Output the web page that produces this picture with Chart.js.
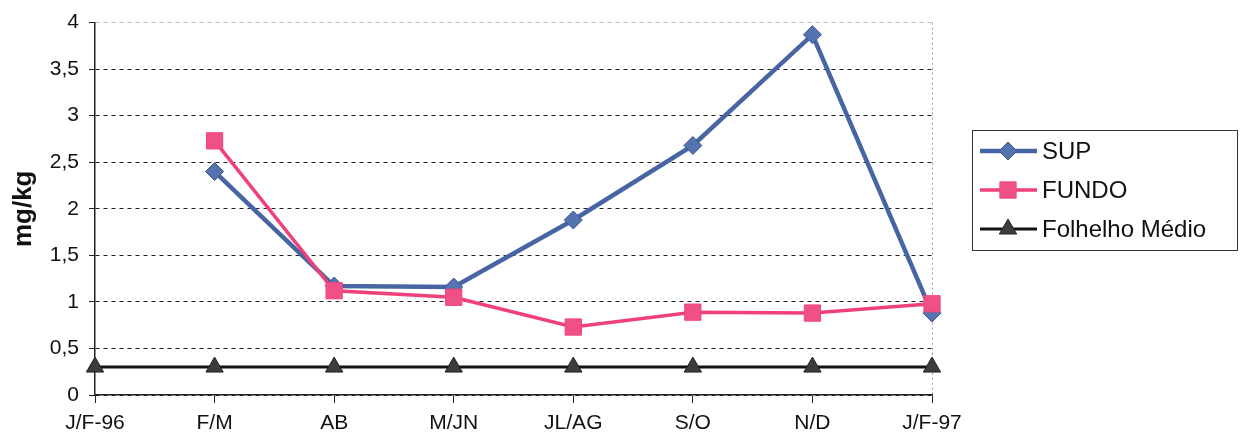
<!DOCTYPE html>
<html>
<head>
<meta charset="utf-8">
<script src="https://cdn.jsdelivr.net/npm/chart.js@4.4.0/dist/chart.umd.min.js"></script>
<style>
  html, body { margin: 0; padding: 0; background: #fff; }
  #wrap { width: 1244px; height: 438px; position: relative; }
</style>
</head>
<body>
<div id="wrap"><canvas id="grafico"></canvas></div>
<script>
// meses de coleta
var meses = ['J/F-96', 'F/M', 'AB', 'M/JN', 'JL/AG', 'S/O', 'N/D', 'J/F-97'];
// concentração (mg/kg)
var sup = [null, 2.40, 1.17, 1.16, 1.88, 2.68, 3.87, 0.88];
var fundo = [null, 2.73, 1.12, 1.05, 0.73, 0.89, 0.88, 0.98];
var folhelho = [0.3, 0.3, 0.3, 0.3, 0.3, 0.3, 0.3, 0.3];
var yTicks = [0, 0.5, 1, 1.5, 2, 2.5, 3, 3.5, 4];

var fonte = 'Liberation Sans, Arial, sans-serif';

// legenda com moldura, desenhada à direita do gráfico
var legendaBox = {
  id: 'legendaBox',
  afterDraw: function(chart) {
    var ctx = chart.ctx;
    var x0 = 972, y0 = 130, w = 265, h = 120;
    ctx.save();
    ctx.strokeStyle = '#333';
    ctx.lineWidth = 1;
    ctx.strokeRect(x0 + 0.5, y0 + 0.5, w, h);
    [0, 1, 2].forEach(function(i, k) {
      var ds = chart.data.datasets[i];
      var y = y0 + 21 + k * 39;
      ctx.strokeStyle = ds.borderColor;
      ctx.lineWidth = ds.borderWidth;
      ctx.beginPath();
      ctx.moveTo(980, y);
      ctx.lineTo(1037, y);
      ctx.stroke();
      ctx.fillStyle = ds.pointBackgroundColor;
      ctx.strokeStyle = ds.pointBorderColor;
      ctx.lineWidth = 1;
      Chart.helpers.drawPoint(ctx, {
        pointStyle: ds.pointStyle,
        radius: ds.pointRadius,
        rotation: 0,
        borderWidth: 1
      }, 1008, y);
      ctx.fillStyle = '#111';
      ctx.font = '24px ' + fonte;
      ctx.textBaseline = 'middle';
      ctx.textAlign = 'left';
      ctx.fillText(ds.label, 1042, y + 1);
    });
    ctx.restore();
  }
};

new Chart(document.getElementById('grafico'), {
  type: 'line',
  data: {
    labels: meses,
    datasets: [
      {
        label: 'SUP',
        data: sup,
        borderColor: '#4865a3',
        borderWidth: 4.5,
        pointStyle: 'rectRot',
        pointRadius: 9,
        pointHoverRadius: 9,
        pointBackgroundColor: '#5573b0',
        pointBorderColor: '#3b568f',
        pointBorderWidth: 1,
        order: 2,
        clip: false
      },
      {
        label: 'FUNDO',
        data: fundo,
        borderColor: '#f0407b',
        borderWidth: 3.5,
        pointStyle: 'rect',
        pointRadius: 11.5,
        pointHoverRadius: 11.5,
        pointBackgroundColor: '#f05086',
        pointBorderColor: '#ee4680',
        pointBorderWidth: 1,
        order: 1,
        clip: false
      },
      {
        label: 'Folhelho Médio',
        data: folhelho,
        borderColor: '#111',
        borderWidth: 3,
        pointStyle: 'triangle',
        pointRadius: 10,
        pointHoverRadius: 10,
        pointBackgroundColor: '#3c3c40',
        pointBorderColor: '#222',
        pointBorderWidth: 1,
        order: 3,
        clip: false
      }
    ]
  },
  options: {
    responsive: true,
    maintainAspectRatio: false,
    animation: false,
    spanGaps: false,
    layout: { padding: { left: 0, right: 312, top: 22, bottom: 0 } },
    plugins: {
      legend: { display: false },
      tooltip: { enabled: false }
    },
    scales: {
      x: {
        type: 'category',
        offset: false,
        grid: {
          drawOnChartArea: true,
          color: function(c) { return c.index === meses.length - 1 ? '#999' : 'rgba(0,0,0,0)'; },
          lineWidth: 1,
          tickColor: '#222',
          tickLength: 8
        },
        border: { display: true, color: '#222', width: 1.5, dash: [2, 3] },
        ticks: {
          color: '#111',
          font: { family: fonte, size: 21 },
          padding: 8,
          maxRotation: 0,
          autoSkip: false
        },
        afterFit: function(s) { s.height = 43; }
      },
      y: {
        min: 0,
        max: 4,
        afterBuildTicks: function(s) { s.ticks = yTicks.map(function(v) { return { value: v }; }); },
        grid: {
          color: function(c) { return c.tick && c.tick.value === 4 ? '#bbb' : '#222'; },
          lineWidth: 1,
          tickColor: '#222',
          tickLength: 6
        },
        border: { display: true, color: '#222', width: 1.5, dash: [4, 4] },
        ticks: {
          color: '#111',
          font: { family: fonte, size: 21 },
          padding: 10,
          callback: function(v) { return String(v).replace('.', ','); }
        },
        title: {
          display: true,
          text: 'mg/kg',
          color: '#111',
          font: { family: fonte, size: 26, weight: 'bold' },
          padding: { top: 8, bottom: 0 }
        },
        afterFit: function(s) { s.width = 95; }
      }
    }
  },
  plugins: [legendaBox]
});
</script>
</body>
</html>
